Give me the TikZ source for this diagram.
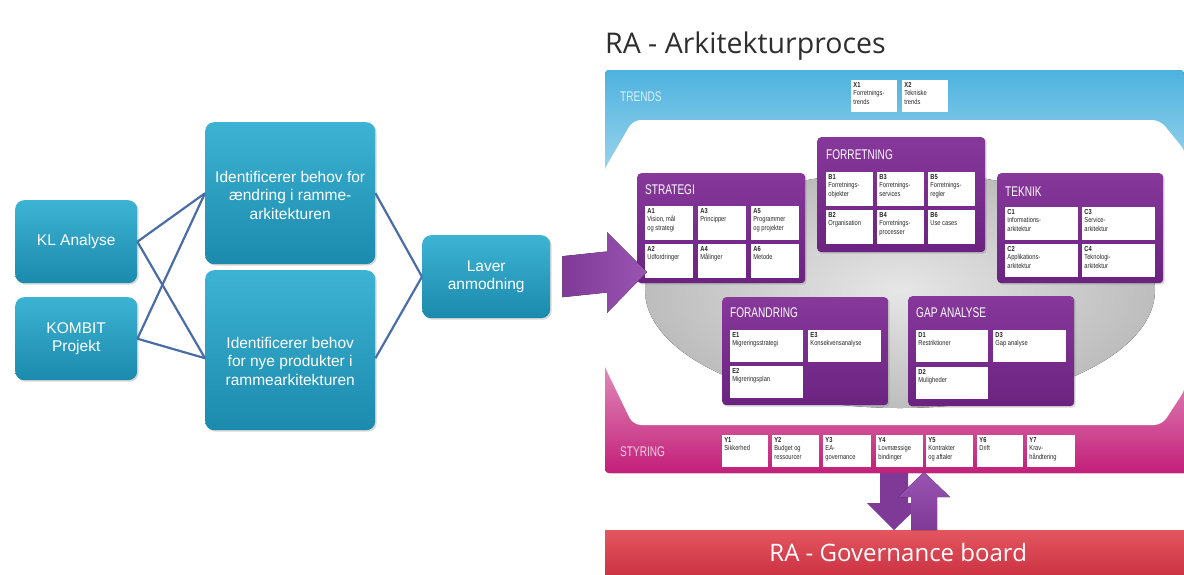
\documentclass[tikz,border=0pt]{standalone}
\usepackage{fontspec}
\setmainfont{Liberation Sans}
\newfontfamily\titlefont{Open Sans}
\newfontfamily\headfont[FakeStretch=0.72]{Liberation Sans}
\newfontfamily\cellfont[FakeStretch=0.8]{Liberation Sans}
\usetikzlibrary{calc,shadows}
\definecolor{tealT}{HTML}{3DB3D4}
\definecolor{tealB}{HTML}{1B8AAD}
\definecolor{lineC}{HTML}{4A6DA7}
\definecolor{purT}{HTML}{86389B}
\definecolor{purB}{HTML}{6B2380}
\definecolor{arrC}{HTML}{7E3A96}
\definecolor{arrL}{HTML}{9A55B2}
\definecolor{blueT}{HTML}{4DB2DE}
\definecolor{blueM}{HTML}{93D2EE}
\definecolor{blueB}{HTML}{EEF8FC}
\definecolor{pinkT}{HTML}{F8E3EE}
\definecolor{pinkM}{HTML}{DA5FA2}
\definecolor{pinkB}{HTML}{C31F79}
\definecolor{boardT}{HTML}{E4565F}
\definecolor{boardB}{HTML}{CC3343}
\definecolor{grayI}{HTML}{E6E6E6}
\definecolor{grayO}{HTML}{BDBDBD}
\definecolor{trendT}{HTML}{DDF1FA}
\definecolor{styrT}{HTML}{F6D0E3}
\definecolor{titleC}{HTML}{2E2E2E}
\newcommand\mycell[6]{%
  \node[cellbox, minimum width=#4pt, minimum height=#5pt, anchor=north west] (#1) at (#2,#3) {};
  \node[celltext, anchor=north west] (#1t) at (#1.north west) {#6};}
\begin{document}
\begin{tikzpicture}[x=1pt,y=-1pt,
  tealbox/.style={rounded corners=9pt, top color=tealT, bottom color=tealB, draw=none,
    text=white, font=\fontsize{15.5}{18.5}\selectfont, align=center, inner sep=0pt,
    drop shadow={opacity=0.3, shadow xshift=1.5pt, shadow yshift=-1.5pt}},
  conn/.style={draw=lineC, line width=2.2pt},
  purplebox/.style={rounded corners=4pt, top color=purT, bottom color=purB, draw=none,
    inner sep=0pt, drop shadow={opacity=0.3, shadow xshift=1.5pt, shadow yshift=-1.5pt}},
  cellbox/.style={fill=white, draw=none, inner sep=0pt},
  celltext/.style={font=\cellfont\fontsize{7.2}{8.4}\selectfont, align=left, inner sep=2.2pt, text=black!85},
  head/.style={font=\headfont\fontsize{14}{15}\selectfont, text=white, anchor=west, inner sep=0pt},
  bandlabel/.style={font=\headfont\fontsize{14}{15}\selectfont, anchor=west, inner sep=0pt}
]
\useasboundingbox (0,0) rectangle (1184,574);
\fill[white] (0,0) rectangle (1184,574);

% ---------- left part ----------
\node[tealbox, minimum width=122pt, minimum height=83pt, anchor=north west] (kl) at (15,200) {KL Analyse};
\node[tealbox, minimum width=122pt, minimum height=83pt, anchor=north west] (kombit) at (15,297) {KOMBIT\\Projekt};
\node[tealbox, minimum width=170pt, minimum height=142pt, anchor=north west] (box1) at (205,122) {};
\node[text=white, font=\fontsize{15.5}{18.5}\selectfont, align=center] (box1t) at ($(box1.center)+(0,2)$) {Identificerer behov for\\ændring i ramme-\\arkitekturen};
\node[tealbox, minimum width=170pt, minimum height=160pt, anchor=north west] (box2) at (205,270) {};
\node[text=white, font=\fontsize{15.5}{18.5}\selectfont, align=center] (box2t) at ($(box2.center)+(0,11)$) {Identificerer behov\\for nye produkter i\\rammearkitekturen};
\node[tealbox, minimum width=128pt, minimum height=83pt, anchor=north west] (laver) at (422,235) {Laver\\anmodning};

\coordinate (b1in) at (box1.west);
\coordinate (b2in) at ($(box2.west)+(0,8)$);
\draw[conn] (kl.east) -- (b1in);
\draw[conn] (kl.east) -- (b2in);
\draw[conn] (kombit.east) -- (b1in);
\draw[conn] (kombit.east) -- (b2in);
\draw[conn] (box1.east) -- (laver.west);
\draw[conn] ($(box2.east)+(0,8)$) -- (laver.west);

% ---------- title ----------
\node[font=\titlefont\fontsize{28.5}{32}\selectfont, anchor=west, inner sep=0pt, text=titleC] (title) at (605,46) {RA - Arkitekturproces};

% ---------- panel ----------
\fill[top color=blueT, middle color=blueM, bottom color=blueB] (605,280) [rounded corners=4pt] -- (605,70) -- (1184,70) [sharp corners] -- (1184,280) -- cycle;
\fill[top color=pinkT, middle color=pinkM, bottom color=pinkB] (605,280) -- (1184,280) -- (1184,473) [rounded corners=4pt] -- (605,473) [sharp corners] -- cycle;
\fill[white, rounded corners=8pt] (633,120) -- (1160,120) -- (1186,152) -- (1186,388) -- (1162,425) -- (633,425) -- (603,363) -- (603,172) -- cycle;
\fill[inner color=grayI, outer color=grayO] (900,290) ellipse [x radius=255pt, y radius=118pt];

\node[bandlabel, text=trendT] (trends) at (620,97) {TRENDS};
\node[bandlabel, text=styrT] (styring) at (620,452) {STYRING};

\mycell{x1}{851}{80}{46}{32}{\textbf{X1}\\Forretnings-\\trends}
\mycell{x2}{902}{80}{46}{32}{\textbf{X2}\\Tekniske\\trends}

% STRATEGI
\node[purplebox, minimum width=168pt, minimum height=110pt, anchor=north west] (strategi) at (637,173) {};
\node[head] (strategih) at (645,190) {STRATEGI};
\mycell{a1}{645}{206}{48}{34}{\textbf{A1}\\Vision, mål\\og strategi}
\mycell{a3}{698}{206}{48}{34}{\textbf{A3}\\Principper}
\mycell{a5}{751}{206}{48}{34}{\textbf{A5}\\Programmer\\og projekter}
\mycell{a2}{645}{244}{48}{34}{\textbf{A2}\\Udfordringer}
\mycell{a4}{698}{244}{48}{34}{\textbf{A4}\\Målinger}
\mycell{a6}{751}{244}{48}{34}{\textbf{A6}\\Metode}

% FORRETNING
\node[purplebox, minimum width=168pt, minimum height=115pt, anchor=north west] (forr) at (817,137) {};
\node[head] (forrh) at (826,155) {FORRETNING};
\mycell{b1}{826}{172}{47}{34}{\textbf{B1}\\Forretnings-\\objekter}
\mycell{b3}{877}{172}{47}{34}{\textbf{B3}\\Forretnings-\\services}
\mycell{b5}{928}{172}{47}{34}{\textbf{B5}\\Forretnings-\\regler}
\mycell{b2}{826}{210}{47}{34}{\textbf{B2}\\Organisation}
\mycell{b4}{877}{210}{47}{34}{\textbf{B4}\\Forretnings-\\processer}
\mycell{b6}{928}{210}{47}{34}{\textbf{B6}\\Use cases}

% TEKNIK
\node[purplebox, minimum width=166pt, minimum height=110pt, anchor=north west] (teknik) at (997,173) {};
\node[head] (teknikh) at (1005,192) {TEKNIK};
\mycell{c1}{1005}{207}{73}{33}{\textbf{C1}\\Informations-\\arkitektur}
\mycell{c3}{1082}{207}{73}{33}{\textbf{C3}\\Service-\\arkitektur}
\mycell{c2}{1005}{244}{73}{33}{\textbf{C2}\\Applikations-\\arkitektur}
\mycell{c4}{1082}{244}{73}{33}{\textbf{C4}\\Teknologi-\\arkitektur}

% FORANDRING
\node[purplebox, minimum width=166pt, minimum height=108pt, anchor=north west] (forand) at (722,297) {};
\node[head] (forandh) at (730,313) {FORANDRING};
\mycell{e1}{730}{330}{73}{32}{\textbf{E1}\\Migreringsstrategi}
\mycell{e3}{808}{330}{73}{32}{\textbf{E3}\\Konsekvensanalyse}
\mycell{e2}{730}{366}{73}{32}{\textbf{E2}\\Migreringsplan}

% GAP ANALYSE
\node[purplebox, minimum width=166pt, minimum height=110pt, anchor=north west] (gap) at (908,296) {};
\node[head] (gaph) at (916,313) {GAP ANALYSE};
\mycell{d1}{916}{330}{72}{32}{\textbf{D1}\\Restriktioner}
\mycell{d3}{993}{330}{73}{32}{\textbf{D3}\\Gap analyse}
\mycell{d2}{916}{367}{72}{32}{\textbf{D2}\\Muligheder}

% STYRING cells
\mycell{y1}{722}{435}{46}{32}{\textbf{Y1}\\Sikkerhed}
\mycell{y2}{772}{435}{47}{32}{\textbf{Y2}\\Budget og\\ressourcer}
\mycell{y3}{823}{435}{48}{32}{\textbf{Y3}\\EA-\\governance}
\mycell{y4}{876}{435}{47}{32}{\textbf{Y4}\\Lovmæssige\\bindinger}
\mycell{y5}{926}{435}{47}{32}{\textbf{Y5}\\Kontrakter\\og aftaler}
\mycell{y6}{977}{435}{46}{32}{\textbf{Y6}\\Drift}
\mycell{y7}{1027}{435}{48}{32}{\textbf{Y7}\\Krav-\\håndtering}

% arrow from Laver anmodning into STRATEGI
\coordinate (arrS) at ($(laver.east)+(12,0)$);
\coordinate (arrT) at (647,272);
\fill[left color=arrC, right color=arrL]
  ($(arrS)+(0,-20.5)$) -- (607,251.5) -- (607,232) -- (arrT) -- (607,313) -- (607,292.5) -- ($(arrS)+(0,20.5)$) -- cycle;

% ---------- governance board ----------
\node[top color=boardT, bottom color=boardB, draw=none, minimum width=579pt, minimum height=44pt, anchor=north west, inner sep=0pt,
  text=white, font=\titlefont\fontsize{24}{28}\selectfont] (board) at (605,530) {\hspace*{7pt}RA - Governance board};

% arrows between STYRING and board
\fill[arrC] (880,473) -- (908,473) -- (908,503) -- (922,503) -- (894,530) -- (867,503) -- (880,503) -- cycle;
\fill[top color=arrL, bottom color=arrC] (911,530) -- (937,530) -- (937,497) -- (950,497) -- (924,472) -- (898,497) -- (911,497) -- cycle;
\end{tikzpicture}
\end{document}
